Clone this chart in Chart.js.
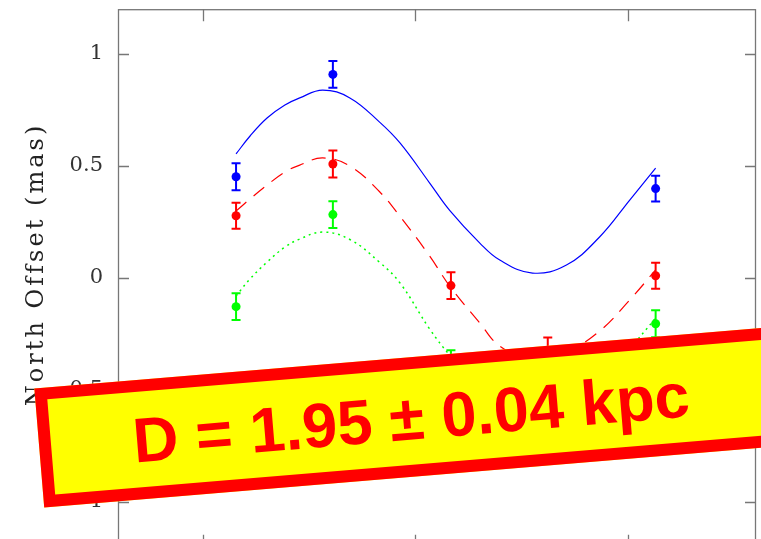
<!DOCTYPE html>
<html>
<head>
<meta charset="utf-8">
<script src="https://cdn.jsdelivr.net/npm/chart.js@4.4.1/dist/chart.umd.min.js"></script>
<style>
  html, body { margin: 0; padding: 0; background: #fff; overflow: hidden; }
  #wrap { width: 761px; height: 600px; }
</style>
</head>
<body>
<div id="wrap"><canvas id="c" width="761" height="600"></canvas></div>
<script>
// Observation epochs (years) and measured north offsets (mas) with 1-sigma errors
const epochs = [2006.078, 2006.306, 2006.584, 2006.812, 2007.066];
const blueOffsets = [0.452, 0.909, null, null, 0.399];
const blueErrors = [0.060, 0.060, null, null, 0.058];
const redOffsets = [0.278, 0.509, -0.034, -0.326, 0.010];
const redErrors = [0.058, 0.060, 0.060, 0.060, 0.058];
const greenOffsets = [-0.128, 0.283, -0.383, null, -0.204];
const greenErrors = [0.060, 0.060, 0.060, null, 0.060];

// Best-fit parallax + proper-motion model, sampled along the time axis
const modelTimes = [2006.078, 2006.111, 2006.151, 2006.193, 2006.228, 2006.282, 2006.346, 2006.416, 2006.464,
                    2006.534, 2006.581, 2006.652, 2006.699, 2006.776, 2006.856, 2006.934, 2007.005, 2007.066];
const blueModel = [0.554, 0.634, 0.714, 0.772, 0.804, 0.839, 0.804, 0.696, 0.603,
                   0.424, 0.302, 0.156, 0.080, 0.022, 0.058, 0.183, 0.348, 0.491];
const redModel = [0.299, 0.353, 0.415, 0.473, 0.504, 0.536, 0.500, 0.385, 0.275,
                  0.098, -0.036, -0.201, -0.304, -0.366, -0.330, -0.237, -0.098, 0.036];
const greenModel = [-0.080, -0.004, 0.071, 0.138, 0.174, 0.205, 0.172, 0.070, -0.022,
                    -0.228, -0.344, -0.491, -0.571, -0.634, -0.603, -0.478, -0.317, -0.179];

const yTickValues = [-1, -0.5, 0, 0.5, 1];
const xTickValues = [2006, 2006.5, 2007];
const yAxisTitle = 'North Offset (mas)';
const bannerText = 'D = 1.95 \u00B1 0.04 kpc';

const BLUE = '#0000ff', RED = '#ff0000', GREEN = '#00ff00';

function pairs(xs, ys) {
  const out = [];
  xs.forEach((x, i) => { if (ys[i] !== null) out.push({ x: x, y: ys[i] }); });
  return out;
}

const series = [
  { values: blueOffsets, errors: blueErrors, color: BLUE },
  { values: redOffsets, errors: redErrors, color: RED },
  { values: greenOffsets, errors: greenErrors, color: GREEN }
];

// Vertical error bars with caps, placed through the chart scales
const errorBars = {
  id: 'errorBars',
  beforeDatasetsDraw(chart) {
    const ctx = chart.ctx, xs = chart.scales.x, ys = chart.scales.y;
    ctx.save();
    ctx.lineWidth = 2;
    series.forEach(s => {
      ctx.strokeStyle = s.color;
      epochs.forEach((t, i) => {
        if (s.values[i] === null) return;
        const x = xs.getPixelForValue(t);
        const yTop = ys.getPixelForValue(s.values[i] + s.errors[i]);
        const yBot = ys.getPixelForValue(s.values[i] - s.errors[i]);
        ctx.beginPath();
        ctx.moveTo(x, yTop); ctx.lineTo(x, yBot);
        ctx.moveTo(x - 4.5, yTop); ctx.lineTo(x + 4.5, yTop);
        ctx.moveTo(x - 4.5, yBot); ctx.lineTo(x + 4.5, yBot);
        ctx.stroke();
      });
    });
    ctx.restore();
  }
};

// Box frame with inward tick marks, axis title, and the distance banner
const decorations = {
  id: 'decorations',
  afterDraw(chart) {
    const ctx = chart.ctx, a = chart.chartArea, xs = chart.scales.x, ys = chart.scales.y;
    ctx.save();
    ctx.strokeStyle = '#777';
    ctx.lineWidth = 1.3;
    ctx.strokeRect(a.left + 0.5, a.top + 0.5, a.right - a.left, a.bottom - a.top);
    ctx.beginPath();
    yTickValues.forEach(v => {
      const y = Math.round(ys.getPixelForValue(v)) + 0.5;
      ctx.moveTo(a.left, y); ctx.lineTo(a.left + 11, y);
      ctx.moveTo(a.right - 10, y); ctx.lineTo(a.right, y);
    });
    xTickValues.forEach(v => {
      const x = Math.round(xs.getPixelForValue(v)) + 0.5;
      ctx.moveTo(x, a.bottom); ctx.lineTo(x, a.bottom - 12);
      ctx.moveTo(x, a.top); ctx.lineTo(x, a.top + 12);
    });
    ctx.stroke();

    // y-axis title
    ctx.save();
    ctx.font = '24px "DejaVu Serif"';
    ctx.fillStyle = '#222';
    const w0 = ctx.measureText(yAxisTitle).width;
    const spacing = Math.max(0, (283 - w0) / yAxisTitle.length);
    ctx.letterSpacing = spacing + 'px';
    ctx.translate(43, 266);
    ctx.rotate(-Math.PI / 2);
    ctx.textAlign = 'center';
    ctx.textBaseline = 'alphabetic';
    ctx.fillText(yAxisTitle, spacing / 2, 0);
    ctx.restore();

    // banner
    ctx.save();
    ctx.translate(411, 417);
    ctx.rotate(-4.75 * Math.PI / 180);
    ctx.fillStyle = '#ffff00';
    ctx.fillRect(-373, -59.7, 746, 119.4);
    ctx.strokeStyle = RED;
    ctx.lineWidth = 12;
    ctx.strokeRect(-367, -53.7, 734, 107.4);
    ctx.fillStyle = RED;
    ctx.font = 'bold 63px "Liberation Sans", Arial, sans-serif';
    ctx.textAlign = 'center';
    ctx.textBaseline = 'alphabetic';
    ctx.fillText(bannerText, 0, 22.5);
    ctx.restore();

    ctx.restore();
  }
};

new Chart(document.getElementById('c'), {
  type: 'scatter',
  data: {
    datasets: [
      { type: 'line', data: pairs(modelTimes, blueModel), borderColor: BLUE, borderWidth: 1.2,
        pointRadius: 0, tension: 0.4, fill: false },
      { type: 'line', data: pairs(modelTimes, redModel), borderColor: RED, borderWidth: 1.2,
        borderDash: [14, 9], pointRadius: 0, tension: 0.4, fill: false },
      { type: 'line', data: pairs(modelTimes, greenModel), borderColor: GREEN, borderWidth: 1.5,
        borderDash: [2, 4], pointRadius: 0, tension: 0.4, fill: false },
      { data: pairs(epochs, blueOffsets), backgroundColor: BLUE, pointRadius: 4.5, pointBorderWidth: 0 },
      { data: pairs(epochs, redOffsets), backgroundColor: RED, pointRadius: 4.5, pointBorderWidth: 0 },
      { data: pairs(epochs, greenOffsets), backgroundColor: GREEN, pointRadius: 4.5, pointBorderWidth: 0 }
    ]
  },
  options: {
    responsive: false,
    animation: false,
    events: [],
    layout: { padding: { top: 9.2, right: 6, left: 0, bottom: 0 } },
    plugins: { legend: { display: false }, tooltip: { enabled: false }, title: { display: false } },
    scales: {
      x: {
        type: 'linear', min: 2005.8, max: 2007.3,
        afterBuildTicks: s => { s.ticks = xTickValues.map(v => ({ value: v })); },
        afterFit: s => { s.height = 53.2; s.paddingLeft = 0; s.paddingRight = 0; },
        ticks: { display: false },
        grid: { display: false },
        border: { display: false }
      },
      y: {
        type: 'linear', min: -1.2, max: 1.2,
        afterBuildTicks: s => { s.ticks = yTickValues.map(v => ({ value: v })); },
        afterFit: s => { s.width = 118; s.paddingTop = 0; s.paddingBottom = 0; },
        grid: { display: false, drawTicks: false },
        border: { display: false },
        ticks: {
          padding: 15,
          color: '#333',
          font: { family: '"DejaVu Serif"', size: 21 },
          callback: v => String(v)
        }
      }
    }
  },
  plugins: [errorBars, decorations]
});
</script>
</body>
</html>
